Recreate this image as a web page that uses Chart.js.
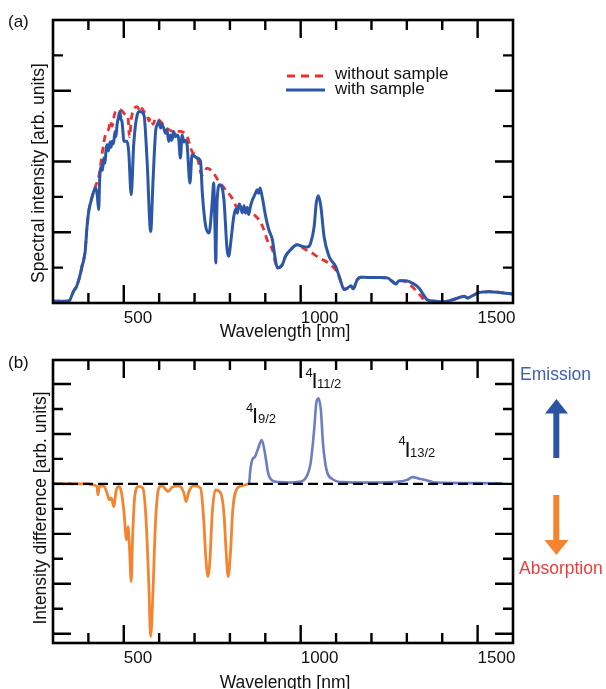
<!DOCTYPE html>
<html>
<head>
<meta charset="utf-8">
<script src="https://cdn.jsdelivr.net/npm/chart.js@4.4.0/dist/chart.umd.min.js"></script>
<style>
  html, body { margin: 0; padding: 0; background: #fff; }
  #wrap { position: relative; width: 606px; height: 689px; overflow: hidden; }
  canvas { position: absolute; left: 0; }
  #chartA { top: 0; }
  #chartB { top: 345px; }
</style>
</head>
<body>
<div id="wrap">
  <canvas id="chartA" width="606" height="345"></canvas>
  <canvas id="chartB" width="606" height="344"></canvas>
</div>
<script>
// ---- data ----
const xLabelTicks = [500, 1000, 1500];
const xTickMarks = [400, 500, 600, 700, 800, 900, 1000, 1100, 1200, 1300, 1400, 1500];
const yTicksA = [1, 2, 3, 4, 5, 6, 7];
const yTicksB = [-6, -5, -4, -3, -2, -1, 0, 1, 2, 3, 4];

// (a) with sample
const wlWith = [300, 330, 345, 358, 366, 373, 382, 391, 396, 401,
  410, 420, 425, 429, 432, 436, 440, 443, 447, 450,
  453, 457, 461, 464, 467, 471, 475, 478, 481, 485,
  489, 492, 495, 498, 500, 509, 514, 521, 528, 538,
  545, 557, 566, 576, 583, 590, 595, 599, 604, 608,
  613, 618, 622, 627, 632, 636, 641, 646, 650, 655,
  660, 665, 670, 674, 679, 687, 693, 707, 717, 722,
  731, 741, 750, 754, 758, 760, 762, 764, 771, 783,
  792, 797, 802, 811, 816, 821, 826, 830, 835, 840,
  844, 849, 853, 858, 863, 868, 872, 877, 881, 885,
  891, 901, 910, 920, 927, 934, 948, 957, 972, 990,
  1005, 1019, 1028, 1038, 1044, 1050, 1057, 1066, 1080, 1099,
  1109, 1123, 1132, 1142, 1148, 1160, 1170, 1193, 1222, 1245,
  1259, 1269, 1278, 1297, 1316, 1335, 1344, 1358, 1382, 1401,
  1429, 1453, 1462, 1472, 1486, 1505, 1533, 1561, 1600];
const intWith = [0.05, 0.05, 0.06, 0.33, 0.45, 0.66, 1.03, 1.46, 2.13, 2.59,
  2.97, 3.26, 3.05, 2.64, 3.5, 3.85, 3.75, 4.10, 3.95, 4.35,
  4.47, 4.3, 4.55, 4.4, 4.57, 4.5, 4.85, 4.7, 5.04, 5.25,
  5.41, 5.2, 5.13, 4.8, 4.57, 4.57, 4.28, 3.06, 4.47, 5.32,
  5.41, 5.32, 4.00, 2.02, 3.53, 4.85, 5.05, 5.13, 4.95, 5.05,
  4.94, 4.8, 4.9, 4.57, 4.75, 4.6, 4.85, 4.7, 4.75, 4.66,
  4.10, 4.75, 4.55, 4.6, 4.47, 3.39, 4.19, 4.10, 4.00, 3.11,
  2.20, 1.98, 2.85, 3.39, 2.0, 1.13, 2.2, 2.92, 3.34, 2.92,
  1.51, 1.32, 1.69, 2.45, 2.65, 2.54, 2.8, 2.73, 2.55, 2.75,
  2.54, 2.7, 2.5, 2.73, 2.9, 3.01, 3.1, 3.20, 3.1, 3.25,
  3.01, 2.45, 2.07, 1.79, 1.32, 0.99, 1.08, 1.32, 1.51, 1.65,
  1.60, 1.58, 1.69, 2.16, 2.82, 3.03, 2.73, 1.88, 1.32, 1.03,
  0.75, 0.38, 0.42, 0.49, 0.40, 0.66, 0.73, 0.72, 0.72, 0.71,
  0.61, 0.54, 0.63, 0.63, 0.56, 0.42, 0.28, 0.09, 0.05, 0.03,
  0.09, 0.17, 0.19, 0.14, 0.21, 0.30, 0.32, 0.30, 0.25];

// (a) without sample
const wlWithout = [300, 345, 358, 373, 382, 391, 396, 401, 410, 420,
  430, 440, 448, 458, 462, 467, 470, 473, 477, 491,
  505, 512, 516, 522, 538, 547, 552, 557, 566, 571,
  576, 583, 590, 604, 622, 641, 660, 679, 693, 707,
  721, 736, 750, 754, 769, 788, 806, 825, 844, 863,
  882, 896, 905, 920, 934, 948, 957, 972, 990, 1000,
  1014, 1033, 1052, 1071, 1090, 1104, 1118, 1123, 1132, 1142,
  1148, 1160, 1170, 1193, 1222, 1245, 1259, 1269, 1278, 1297,
  1316, 1335, 1354, 1382, 1401, 1429, 1453, 1462, 1472, 1486,
  1505, 1533, 1561, 1600];
const intWithout = [0.05, 0.06, 0.33, 0.66, 1.05, 1.50, 2.15, 2.60, 3.00, 3.30,
  3.60, 4.30, 4.75, 4.94, 5.15, 5.00, 5.10, 5.30, 5.41, 5.46,
  5.32, 5.25, 4.70, 5.25, 5.55, 5.40, 5.50, 5.41, 5.30, 5.15,
  5.23, 5.05, 5.23, 5.13, 4.94, 4.85, 4.85, 4.70, 4.28, 4.14,
  3.62, 3.81, 3.72, 3.67, 3.43, 3.20, 2.97, 2.64, 2.64, 2.54,
  2.35, 2.07, 1.79, 1.51, 0.99, 1.08, 1.32, 1.51, 1.65, 1.60,
  1.51, 1.41, 1.27, 1.18, 1.03, 0.85, 0.47, 0.38, 0.42, 0.49,
  0.40, 0.66, 0.73, 0.72, 0.72, 0.71, 0.61, 0.54, 0.63, 0.60,
  0.45, 0.25, 0.05, 0.03, 0.03, 0.09, 0.17, 0.19, 0.14, 0.21,
  0.30, 0.32, 0.30, 0.25];

// (b) absorption part of the difference
const wlAbs = [300, 400, 410, 424, 427, 431, 443, 453, 459, 465, 472, 478, 486, 493, 500, 508, 512, 516, 521, 525,
  531, 542, 554, 563, 571, 576, 582, 590, 599, 608, 618, 625, 637, 656, 670, 676, 684, 698, 717, 726,
  731, 738, 743, 750, 759, 774, 783, 789, 795, 802, 808, 821, 835, 852];
const diffAbs = [0, 0, -0.04, -0.1, -0.44, -0.1, -0.08, -0.37, -0.64, -0.57, -0.91, -0.31, -0.1, -0.31, -1.04, -2.24, -1.71, -2.51, -3.91, -2.11,
  -0.51, -0.1, -0.17, -1.44, -4.11, -6.11, -4.51, -1.44, -0.17, -0.08, -0.21, -0.31, -0.13, -0.08, -0.37, -0.71, -0.31, -0.07, -0.17, -1.44,
  -2.77, -3.71, -3.17, -1.17, -0.24, -0.37, -1.17, -2.64, -3.71, -2.64, -1.04, -0.17, -0.07, 0];

// (b) emission part of the difference
const wlEm = [852, 854, 858, 863, 871, 880, 890, 899, 908, 920, 938, 967, 995, 1014, 1028, 1038, 1044, 1050, 1057, 1063,
  1073, 1090, 1118, 1203, 1278, 1301, 1316, 1335, 1363, 1382, 1505, 1570];
const diffEm = [0, 0.03, 0.6, 0.96, 1.09, 1.43, 1.76, 1.23, 0.43, 0.13, 0.07, 0.05, 0.08, 0.23, 0.83, 2.16, 3.23, 3.43, 2.96, 1.63,
  0.56, 0.19, 0.07, 0.05, 0.09, 0.16, 0.27, 0.21, 0.12, 0.05, 0.03, 0.02];

const wlZero = [300, 1570];
const zeroLine = [0, 0];

// ---- helpers ----
const FONT = '"Liberation Sans", Arial, Helvetica, sans-serif';
const pts = (xs, ys) => xs.map((v, i) => ({ x: v, y: ys[i] }));

function txt(ctx, s, x, y, size, color, align) {
  ctx.font = size + 'px ' + FONT;
  ctx.fillStyle = color || '#111';
  ctx.textAlign = align || 'left';
  ctx.textBaseline = 'alphabetic';
  ctx.fillText(s, x, y);
}

function vtxt(ctx, s, cx, cy, size) {
  ctx.save();
  ctx.translate(cx, cy);
  ctx.rotate(-Math.PI / 2);
  ctx.font = size + 'px ' + FONT;
  ctx.fillStyle = '#111';
  ctx.textAlign = 'center';
  ctx.textBaseline = 'middle';
  ctx.fillText(s, 0, 0);
  ctx.restore();
}

// frame with inward ticks on all four sides, plus extra drawing
function framePlugin(yTicks, extra) {
  return {
    id: 'frame',
    afterDatasetsDraw(chart) {
      const { ctx, chartArea: a, scales: { x, y } } = chart;
      ctx.save();
      ctx.strokeStyle = '#000';
      ctx.lineWidth = 2.6;
      ctx.strokeRect(a.left, a.top, a.right - a.left, a.bottom - a.top);
      ctx.lineWidth = 2.4;
      ctx.beginPath();
      xTickMarks.forEach(v => {
        const px = x.getPixelForValue(v);
        const len = xLabelTicks.includes(v) ? 18 : 10;
        ctx.moveTo(px, a.bottom); ctx.lineTo(px, a.bottom - len);
        ctx.moveTo(px, a.top); ctx.lineTo(px, a.top + len);
      });
      yTicks.forEach(v => {
        const py = y.getPixelForValue(v);
        const len = v % 2 === 0 ? 18 : 10;
        ctx.moveTo(a.left, py); ctx.lineTo(a.left + len, py);
        ctx.moveTo(a.right, py); ctx.lineTo(a.right - len, py);
      });
      ctx.stroke();
      extra(ctx, chart);
      ctx.restore();
    }
  };
}

function xScale(height) {
  return {
    type: 'linear', min: 300, max: 1600,
    afterBuildTicks: s => { s.ticks = xLabelTicks.map(v => ({ value: v })); },
    afterFit: s => { s.height = height; },
    grid: { display: false, drawTicks: false },
    border: { display: false },
    ticks: { align: 'start', padding: 5, color: '#111', font: { size: 17, family: FONT }, callback: v => String(v) }
  };
}

function yScale(min, max) {
  return {
    type: 'linear', min: min, max: max,
    afterFit: s => { s.width = 53; },
    grid: { display: false, drawTicks: false },
    border: { display: false },
    ticks: { display: false }
  };
}

// ---- (a) ----
new Chart(document.getElementById('chartA'), {
  type: 'line',
  data: {
    datasets: [{
      label: 'with sample',
      data: pts(wlWith, intWith),
      borderColor: '#2c57a8',
      borderWidth: 3,
      pointRadius: 0,
      cubicInterpolationMode: 'monotone',
      order: 0
    }, {
      label: 'without sample',
      data: pts(wlWithout, intWithout),
      borderColor: '#ec2f2f',
      borderWidth: 2.8,
      borderDash: [7, 5],
      pointRadius: 0,
      cubicInterpolationMode: 'monotone',
      order: 1
    }]
  },
  options: {
    responsive: false,
    animation: false,
    layout: { padding: { left: 0, right: 93, top: 20, bottom: 0 } },
    plugins: { legend: { display: false }, tooltip: { enabled: false } },
    scales: { x: xScale(42), y: yScale(0, 8) }
  },
  plugins: [framePlugin(yTicksA, (ctx) => {
    txt(ctx, '(a)', 8, 27, 17);
    vtxt(ctx, 'Spectral intensity [arb. units]', 39, 173, 17.5);
    txt(ctx, 'Wavelength [nm]', 285, 337, 17.5, '#111', 'center');
    // legend
    ctx.lineWidth = 3;
    ctx.strokeStyle = '#ec2f2f';
    ctx.setLineDash([8, 6]);
    ctx.beginPath(); ctx.moveTo(287, 76); ctx.lineTo(326, 76); ctx.stroke();
    ctx.setLineDash([]);
    ctx.strokeStyle = '#2c57a8';
    ctx.beginPath(); ctx.moveTo(286, 90); ctx.lineTo(325, 90); ctx.stroke();
    txt(ctx, 'without sample', 335, 78.5, 17);
    txt(ctx, 'with sample', 335, 93.5, 17);
  })]
});

// ---- (b) ----
new Chart(document.getElementById('chartB'), {
  type: 'line',
  data: {
    datasets: [{
      label: 'zero',
      data: pts(wlZero, zeroLine),
      borderColor: '#000',
      borderWidth: 2.4,
      borderDash: [10, 5],
      pointRadius: 0,
      order: 0
    }, {
      label: 'emission',
      data: pts(wlEm, diffEm),
      borderColor: '#6b7ec3',
      borderWidth: 2.6,
      pointRadius: 0,
      cubicInterpolationMode: 'monotone',
      order: 1
    }, {
      label: 'absorption',
      data: pts(wlAbs, diffAbs),
      borderColor: '#f5842f',
      borderWidth: 2.8,
      pointRadius: 0,
      cubicInterpolationMode: 'monotone',
      order: 2
    }]
  },
  options: {
    responsive: false,
    animation: false,
    layout: { padding: { left: 0, right: 93, top: 15, bottom: 0 } },
    plugins: { legend: { display: false }, tooltip: { enabled: false } },
    scales: { x: xScale(46), y: yScale(-6.37, 4.96) }
  },
  plugins: [framePlugin(yTicksB, (ctx) => {
    txt(ctx, '(b)', 8, 23, 17);
    vtxt(ctx, 'Intensity difference [arb. units]', 41, 163, 17.5);
    txt(ctx, 'Wavelength [nm]', 285, 343, 17.5, '#111', 'center');
    // level labels
    txt(ctx, '4', 246, 67, 13); txt(ctx, 'I', 252, 78, 22); txt(ctx, '9/2', 258, 78, 13);
    txt(ctx, '4', 305.5, 32, 13); txt(ctx, 'I', 311.5, 43.3, 22); txt(ctx, '11/2', 317, 43.3, 13);
    txt(ctx, '4', 398.5, 100, 13); txt(ctx, 'I', 404.5, 111.5, 22); txt(ctx, '13/2', 410, 111.5, 13);
    // emission / absorption arrows
    txt(ctx, 'Emission', 520, 35, 17.5, '#3d62b1');
    ctx.fillStyle = '#2b55a3';
    ctx.fillRect(553.3, 67, 6, 46);
    ctx.beginPath(); ctx.moveTo(545, 68.5); ctx.lineTo(568, 68.5); ctx.lineTo(556.4, 54); ctx.closePath(); ctx.fill();
    ctx.fillStyle = '#f5842f';
    ctx.fillRect(553.3, 150, 6, 46);
    ctx.beginPath(); ctx.moveTo(544.5, 195); ctx.lineTo(568.5, 195); ctx.lineTo(556.4, 210); ctx.closePath(); ctx.fill();
    txt(ctx, 'Absorption', 519, 229, 17.5, '#ef3b3b');
  })]
});
</script>
</body>
</html>
